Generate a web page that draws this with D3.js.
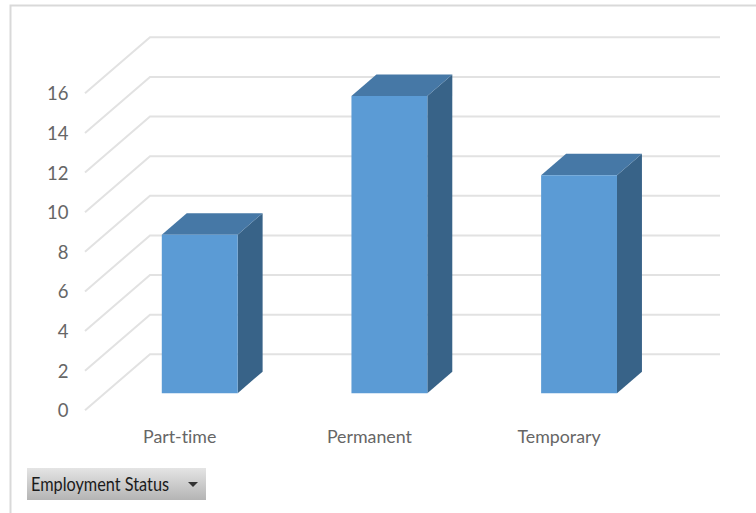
<!DOCTYPE html>
<html>
<head>
<meta charset="utf-8">
<script src="https://cdn.jsdelivr.net/npm/d3@7/dist/d3.min.js"></script>
<style>
  html, body { margin: 0; padding: 0; background: #fff; }
  svg { display: block; }
  text { font-family: Lato, "Open Sans", sans-serif; font-variant-ligatures: none; }
</style>
</head>
<body>
<svg id="chart" width="756" height="513"></svg>
<script>
const categories = ["Part-time", "Permanent", "Temporary"];
const values = [8, 15, 11];
const yTicks = [0, 2, 4, 6, 8, 10, 12, 14, 16];
const filterLabel = "Employment Status";

const svg = d3.select("#chart");

// Outer frame: only the top and left edges are visible
svg.append("path")
  .attr("d", "M10.5,513V5.5H756")
  .attr("fill", "none").attr("stroke", "#d9d9d9").attr("stroke-width", 2);

// Oblique projection: value gives height, depth (0 front, 1 back) shifts up and to the right
const y = d3.scaleLinear().domain([0, 16]).range([410.3, 93.3]);
const depthX = d3.scaleLinear().domain([0, 1]).range([0, 65]);
const depthY = d3.scaleLinear().domain([0, 1]).range([0, -56]);
const x = d3.scaleBand().domain(categories).range([85, 654]).paddingInner(0.6).paddingOuter(0.3);
const project = (px, v, d) => [px + depthX(d), y(v) + depthY(d)];
const line = d3.line();

// Gridlines: side-wall diagonal followed by the back wall
const grid = svg.append("g").attr("fill", "none").attr("stroke", "#e2e2e2").attr("stroke-width", 2);
grid.selectAll("path").data(yTicks).join("path")
  .attr("d", t => line([project(85, t, 0), project(85, t, 1), project(655, t, 1)]));

// Value axis labels
svg.append("g").selectAll("text").data(yTicks).join("text")
  .attr("x", 68.5).attr("y", t => y(t) + 7)
  .attr("text-anchor", "end").attr("font-size", 18.5).attr("fill", "#666")
  .text(d => d);

// Columns sit between these depths on the floor
const dFront = 0.306, dBack = 0.69;
const bars = svg.append("g").selectAll("g").data(categories.map((c, i) => ({ c, v: values[i] }))).join("g");
const poly = pts => line(pts) + "Z";

bars.append("path").attr("fill", "#386388").attr("d", d => {
  const r = x(d.c) + x.bandwidth();
  return poly([project(r, 0, dFront), project(r, 0, dBack), project(r, d.v, dBack), project(r, d.v, dFront)]);
});
bars.append("path").attr("fill", "#4678a6").attr("d", d => {
  const l = x(d.c), r = l + x.bandwidth();
  return poly([project(l, d.v, dFront), project(r, d.v, dFront), project(r, d.v, dBack), project(l, d.v, dBack)]);
});
bars.append("path").attr("fill", "#5b9bd5").attr("d", d => {
  const l = x(d.c), r = l + x.bandwidth();
  return poly([project(l, 0, dFront), project(r, 0, dFront), project(r, d.v, dFront), project(l, d.v, dFront)]);
});

// Category labels
svg.append("g").selectAll("text").data(categories).join("text")
  .attr("x", c => project(x(c) + x.bandwidth() / 2, 0, dFront)[0] - 20)
  .attr("y", 443)
  .attr("text-anchor", "middle").attr("font-size", 17.8).attr("fill", "#666")
  .text(d => d);

// Filter button
const grad = svg.append("defs").append("linearGradient")
  .attr("id", "btn").attr("x1", 0).attr("y1", 0).attr("x2", 0).attr("y2", 1);
grad.append("stop").attr("offset", 0).attr("stop-color", "#e4e4e4");
grad.append("stop").attr("offset", 1).attr("stop-color", "#b4b4b4");
svg.append("rect").attr("x", 27).attr("y", 468).attr("width", 179).attr("height", 32).attr("fill", "url(#btn)");
svg.append("text").attr("x", 31).attr("y", 490.5).attr("font-size", 19).attr("fill", "#1a1a1a")
  .attr("textLength", 138).attr("lengthAdjust", "spacingAndGlyphs").text(filterLabel);
svg.append("path").attr("d", "M188,482H198L193,487Z").attr("fill", "#333");
</script>
</body>
</html>
